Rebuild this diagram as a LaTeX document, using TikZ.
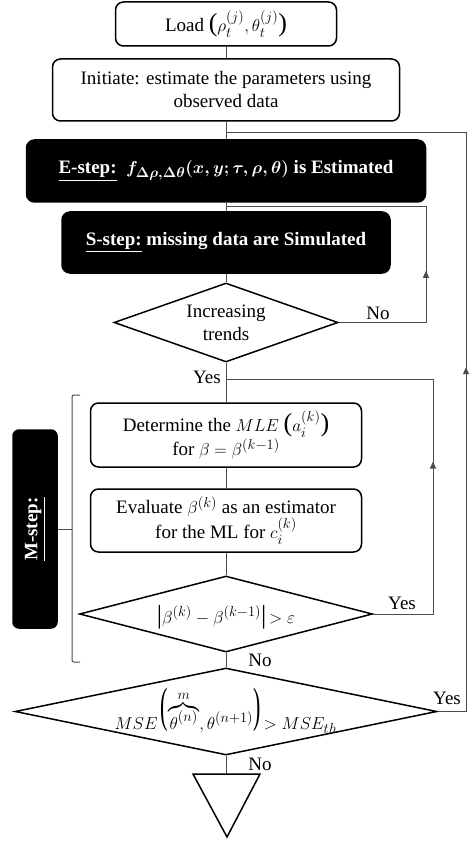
\documentclass[tikz,border=0pt]{standalone}
\usepackage{amsmath}
\usepackage{fontspec}
\setmainfont{Liberation Serif}
\usetikzlibrary{shapes.geometric,arrows.meta,decorations.markings}
\newcommand{\bigpar}[1]{{\fontsize{26}{26}\selectfont #1}}
\newcommand{\tallpar}[1]{\raisebox{8pt}{\scalebox{1}[2.2]{\fontsize{22}{22}\selectfont #1}}}
\begin{document}
\begin{tikzpicture}[x=1pt,y=-1pt,
  font=\fontsize{19}{23}\selectfont,
  box/.style={draw=black, line width=1.5pt, rounded corners=8pt, align=center, inner sep=0pt},
  dbox/.style={box, fill=black, text=white, font=\fontsize{19}{23}\selectfont\bfseries},
  dia/.style={draw=black, line width=1.5pt, diamond, inner sep=0pt},
  conn/.style={draw=black!70, line width=1pt},
  uparrow/.style={postaction={decorate}, decoration={markings, mark=at position #1 with {\arrow{Triangle[length=7pt,width=6pt]}}}}
]
\useasboundingbox (0,0) rectangle (469,842);

% main boxes
\node[box, minimum width=221, minimum height=44] (load) at (226,24) {Load \bigpar{(}$\rho_t^{(j)},\theta_t^{(j)}$\bigpar{)}};
\node[box, minimum width=347, minimum height=62] (init) at (226,90) {Initiate: estimate the parameters using\\observed data};
\node[dbox, minimum width=399, minimum height=62] (estep) at (226,171) {\underline{E-step:}\ \ {\boldmath$f_{\Delta\rho,\Delta\theta}(x,y;\tau,\rho,\theta)$} is Estimated};
\node[dbox, minimum width=328, minimum height=61] (sstep) at (226,242.5) {\underline{S-step:} missing data are Simulated};
\node[dia, minimum width=224, minimum height=79] (inc) at (226,322.5) {};
\node[align=center] (inctext) at (inc.center) {Increasing\\trends};
\node[box, minimum width=271, minimum height=64] (det) at (226,435) {Determine the $MLE$ \bigpar{(}$a_i^{(k)}$\bigpar{)}\\for $\beta=\beta^{(k-1)}$};
\node[box, minimum width=271, minimum height=63] (eval) at (226,520.5) {Evaluate $\beta^{(k)}$ as an estimator\\for the ML for $c_i^{(k)}$};
\node[dia, minimum width=293, minimum height=76] (conv) at (226,614) {};
\node (convtext) at (226,617) {\bigpar{|}$\beta^{(k)}-\beta^{(k-1)}$\bigpar{|}$\,>\varepsilon$};
\node[dia, minimum width=422, minimum height=87] (mse) at (226,711.5) {};
\node[anchor=base] (msetext) at (226,729) {$MSE$\,\tallpar{(}$\overbrace{\theta^{(n)}}^{m},\theta^{(n+1)}$\tallpar{)}\,$>MSE_{th}$};

% M-step label box and bracket
\node[dbox, rounded corners=6pt, minimum width=44, minimum height=198] (mstep) at (35,529) {};
\node[text=white, font=\fontsize{19}{23}\selectfont\bfseries, rotate=90] (msteptext) at (mstep.center) {\underline{M-step:}};
\draw[conn, rounded corners=2pt] (80,395) -- (72,395) -- (72,662) -- (80,662);
\coordinate (brmid) at (72,529);
\draw[conn] (brmid) -- (mstep.east);

% end triangle
\coordinate (endtop) at (226,774);
\draw[line width=1.5pt, line join=miter] (193,774) -- (260,774) -- (227,837) -- cycle;

% main connectors
\draw[conn] (load) -- (init);
\draw[conn] (init) -- (estep);
\draw[conn] (estep) -- (sstep);
\draw[conn] (sstep) -- (inc.north);
\draw[conn] (inc.south) -- (det);
\draw[conn] (det) -- (eval);
\draw[conn] (eval) -- (conv.north);
\draw[conn] (conv.south) -- (mse.north);
\draw[conn] (mse.south) -- (endtop);

% loops
\coordinate (j1) at (226,207);
\coordinate (j2) at (226,379);
\coordinate (j3) at (226,133);
\coordinate (r1) at (426,322.5);
\coordinate (r2) at (433,614);
\coordinate (r3) at (466,711.5);
\draw[conn, uparrow=0.345] (inc.east) -- (r1) |- (j1);
\draw[conn, uparrow=0.423] (conv.east) -- (r2) |- (j2);
\draw[conn, uparrow=0.44] (mse.east) -- (r3) |- (j3);

% labels
\node (l1) at (378,313) {No};
\node (l2) at (207,377) {Yes};
\node (l3) at (402,603) {Yes};
\node (l4) at (260,660) {No};
\node (l5) at (447,698) {Yes};
\node (l6) at (260,764) {No};
\end{tikzpicture}
\end{document}
